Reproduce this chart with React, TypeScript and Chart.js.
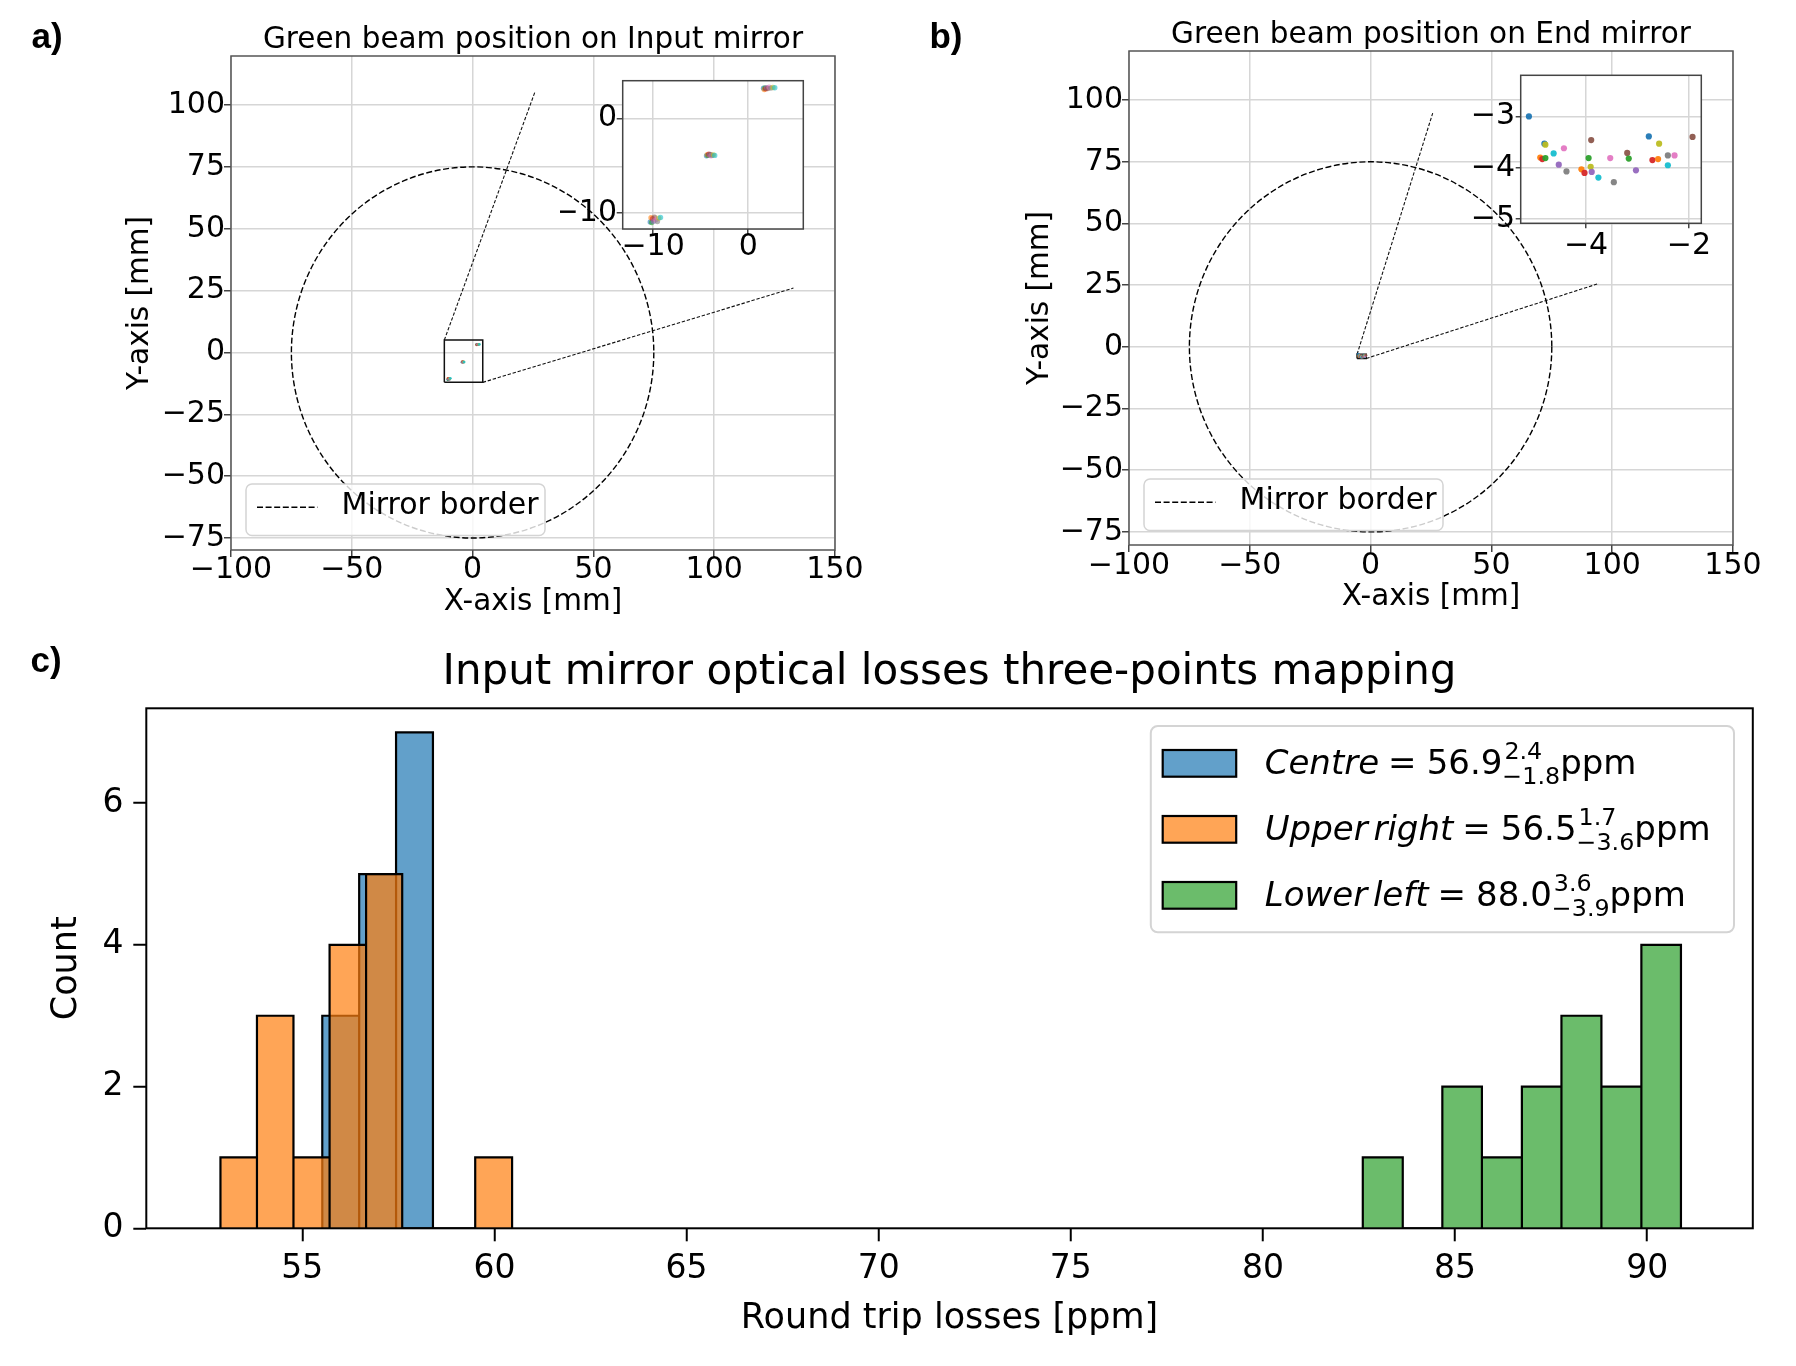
import React, { useEffect, useRef } from 'react';
import { Chart, registerables } from 'chart.js';

Chart.register(...registerables);

const PAGE_W = 1796;
const PAGE_H = 1366;
const FONT = '"DejaVu Sans", sans-serif';
const LETTER_FONT = '"Liberation Sans", Arial, sans-serif';
const TAB10 = ['#1f77b4', '#ff7f0e', '#2ca02c', '#d62728', '#9467bd', '#8c564b', '#e377c2', '#7f7f7f', '#bcbd22', '#17becf'];
const GRID = '#d6d6d6';
const BAR_ALPHA = 0.7;

// ---------------- Panel a : Input mirror ----------------
const A_X_RANGE = [-100, 150];
const A_Y_RANGE = [-79.85, 119.8];
const A_X_TICKS = [-100, -50, 0, 50, 100, 150];
const A_Y_TICKS = [-75, -50, -25, 0, 25, 50, 75, 100];
const MIRROR_CENTER = [0, 0];
const MIRROR_RADIUS = 75;
// beam positions, three measurement points (mm)
const A_UR_X = [1.62, 1.7, 1.78, 1.85, 1.95, 2.05, 2.2, 2.38, 2.6, 2.8];
const A_UR_Y = [3.18, 3.05, 3.22, 3.12, 3.25, 3.15, 3.28, 3.2, 3.26, 3.24];
const A_C_X = [-4.38, -4.3, -4.22, -4.15, -4.08, -4.0, -3.9, -3.8, -3.65, -3.52];
const A_C_Y = [-3.95, -3.85, -3.92, -3.78, -3.88, -3.82, -3.95, -3.9, -3.86, -3.92];
const A_LL_X = [-10.3, -10.22, -10.15, -10.05, -9.95, -9.85, -9.7, -9.55, -9.4, -9.22];
const A_LL_Y = [-10.95, -10.5, -11.02, -10.62, -10.88, -10.45, -10.72, -10.92, -10.55, -10.48];
const A_COLOR_IDX = [0, 1, 2, 3, 4, 5, 6, 7, 8, 9];
const A_BOX_X = [-11.7, 4.2];
const A_BOX_Y = [-12.1, 5.0];
const A_LINK_1 = [[-11.7, 5.0], [25.7, 105.0]];
const A_LINK_2 = [[4.2, -12.1], [132.8, 26.0]];
const A_INSET_X_RANGE = [-13.2, 5.8];
const A_INSET_Y_RANGE = [-11.7, 3.98];
const A_INSET_X_TICKS = [-10, 0];
const A_INSET_Y_TICKS = [-10, 0];

// ---------------- Panel b : End mirror ----------------
const B_X_RANGE = [-100, 150];
const B_Y_RANGE = [-80.3, 119.9];
const B_X_TICKS = [-100, -50, 0, 50, 100, 150];
const B_Y_TICKS = [-75, -50, -25, 0, 25, 50, 75, 100];
const E_X = [-5.11, -4.81, -4.79, -4.89, -4.85, -4.79, -4.63, -4.43, -4.53, -4.38, -4.09, -4.03, -3.9, -3.95, -3.91, -3.89, -3.76, -3.53, -3.46, -3.2, -3.17, -3.03, -2.78, -2.71, -2.6, -2.58, -2.41, -2.41, -2.28, -1.93];
const E_Y = [-3.0, -3.53, -3.55, -3.8, -3.83, -3.81, -3.72, -3.62, -3.94, -4.07, -4.03, -4.1, -3.46, -3.81, -3.98, -4.08, -4.19, -3.81, -4.28, -3.71, -3.82, -4.05, -3.39, -3.85, -3.83, -3.53, -3.76, -3.95, -3.76, -3.4];
const E_COLOR_IDX = [0, 0, 8, 1, 3, 2, 9, 6, 4, 7, 1, 3, 5, 2, 8, 4, 9, 6, 7, 5, 2, 4, 0, 3, 1, 8, 7, 9, 6, 5];
const B_BOX_X = [-5.6, -1.8];
const B_BOX_Y = [-4.7, -3.0];
const B_LINK_1 = [[-5.6, -3.0], [25.7, 94.7]];
const B_LINK_2 = [[-1.8, -4.7], [94.5, 25.7]];
const B_INSET_X_RANGE = [-5.27, -1.76];
const B_INSET_Y_RANGE = [-5.08, -2.2];
const B_INSET_X_TICKS = [-4, -2];
const B_INSET_Y_TICKS = [-5, -4, -3];

// ---------------- Panel c : histogram ----------------
const C_X_RANGE = [50.94, 92.75];
const C_Y_RANGE = [0, 7.34];
const C_X_TICKS = [55, 60, 65, 70, 75, 80, 85, 90];
const C_Y_TICKS = [0, 2, 4, 6];
const CENTRE_EDGES = [55.52, 56.48, 57.44, 58.4];
const CENTRE_COUNTS = [3, 5, 7];
const UPPER_EDGES = [52.87, 53.82, 54.77, 55.71, 56.66, 57.6, 58.55, 59.5, 60.46];
const UPPER_COUNTS = [1, 3, 1, 4, 5, 0, 0, 1];
const LOWER_EDGES = [82.6, 83.64, 84.67, 85.7, 86.74, 87.77, 88.81, 89.85, 90.88];
const LOWER_COUNTS = [1, 0, 2, 1, 2, 3, 2, 4];
const LEGEND_NAMES = [['Centre'], ['Upper', 'right'], ['Lower', 'left']];
const LEGEND_VALUES = ['56.9', '56.5', '88.0'];
const LEGEND_UPPER = ['2.4', '1.7', '3.6'];
const LEGEND_LOWER = ['\u22121.8', '\u22123.6', '\u22123.9'];

// ---------------- helpers ----------------
const fmt = (v: number) => {
  const s = String(Math.round(Math.abs(v) * 100) / 100);
  return v < 0 ? '\u2212' + s : s;
};
const rgba = (hex: string, a: number) => {
  const n = parseInt(hex.slice(1), 16);
  return `rgba(${(n >> 16) & 255},${(n >> 8) & 255},${n & 255},${a})`;
};
const xy = (xs: number[], ys: number[]) => xs.map((x, i) => ({ x, y: ys[i] }));
const steps = (edges: number[], counts: number[]) => {
  const pts: { x: number; y: number }[] = [];
  counts.forEach((c, i) => {
    pts.push({ x: edges[i], y: 0 }, { x: edges[i], y: c }, { x: edges[i + 1], y: c }, { x: edges[i + 1], y: 0 });
  });
  return pts;
};
const rrect = (ctx: CanvasRenderingContext2D, x: number, y: number, w: number, h: number, r: number) => {
  ctx.beginPath();
  ctx.moveTo(x + r, y);
  ctx.lineTo(x + w - r, y);
  ctx.arcTo(x + w, y, x + w, y + r, r);
  ctx.lineTo(x + w, y + h - r);
  ctx.arcTo(x + w, y + h, x + w - r, y + h, r);
  ctx.lineTo(x + r, y + h);
  ctx.arcTo(x, y + h, x, y + h - r, r);
  ctx.lineTo(x, y + r);
  ctx.arcTo(x, y, x + r, y, r);
  ctx.closePath();
};

type Area = { l: number; t: number; r: number; b: number };

function axis(o: any) {
  return {
    type: 'linear',
    display: true,
    min: o.min,
    max: o.max,
    offset: false,
    afterBuildTicks: (s: any) => {
      s.ticks = o.ticks.map((v: number) => ({ value: v }));
    },
    afterFit: (s: any) => {
      if (o.horizontal) s.height = o.size;
      else s.width = o.size;
    },
    grid: {
      display: true,
      drawOnChartArea: o.grid,
      drawTicks: true,
      color: GRID,
      lineWidth: 1.5,
      tickLength: o.tickLen,
      tickWidth: o.tickWidth,
      tickColor: o.tickColor,
      offset: false,
    },
    border: { display: false },
    ticks: {
      autoSkip: false,
      maxRotation: 0,
      minRotation: 0,
      padding: o.tickPad,
      color: '#000',
      font: { family: FONT, size: o.tickSize, lineHeight: 1 },
      callback: (v: any) => fmt(Number(v)),
    },
    title: o.title
      ? { display: true, text: o.title, color: '#000', font: { family: FONT, size: o.titleSize, lineHeight: 1 }, padding: o.titlePad }
      : { display: false },
  };
}

function scalesFor(s: any) {
  const a: Area = s.area;
  const padLeft = a.l - s.yAxisW;
  const hasTitles = !!s.xTitle;
  return {
    layout: {
      autoPadding: false,
      padding: { left: padLeft, top: a.t, right: PAGE_W - a.r, bottom: PAGE_H - a.b - s.xAxisH },
    },
    scales: {
      x: axis({
        min: s.xRange[0], max: s.xRange[1], ticks: s.xTicks, horizontal: true, size: s.xAxisH,
        grid: s.grid, tickLen: s.tickLen, tickWidth: s.tickWidth, tickColor: s.tickColor,
        tickPad: s.xTickY - a.b - s.tickLen - s.tickSize / 2, tickSize: s.tickSize,
        title: hasTitles ? s.xTitle : null, titleSize: s.labelSize,
        titlePad: hasTitles ? { top: 0, bottom: a.b + s.xAxisH - s.xTitleY - s.labelSize / 2 } : 0,
      }),
      y: axis({
        min: s.yRange[0], max: s.yRange[1], ticks: s.yTicks, horizontal: false, size: s.yAxisW,
        grid: s.grid, tickLen: s.tickLen, tickWidth: s.tickWidth, tickColor: s.tickColor,
        tickPad: a.l - s.tickLen - s.yTickRight, tickSize: s.tickSize,
        title: hasTitles ? s.yTitle : null, titleSize: s.labelSize,
        titlePad: hasTitles ? { top: s.yTitleX - padLeft - s.labelSize / 2, bottom: 0 } : 0,
      }),
    },
  };
}

function deco(d: any) {
  return {
    id: 'deco',
    beforeDraw(chart: any) {
      if (!d.bg) return;
      const { ctx, chartArea: ca } = chart;
      ctx.save();
      ctx.fillStyle = '#ffffff';
      ctx.fillRect(ca.left, ca.top, ca.right - ca.left, ca.bottom - ca.top);
      ctx.restore();
    },
    beforeDatasetsDraw(chart: any) {
      if (!d.circle) return;
      const { ctx, chartArea: ca, scales } = chart;
      const cx = scales.x.getPixelForValue(MIRROR_CENTER[0]);
      const cy = scales.y.getPixelForValue(MIRROR_CENTER[1]);
      const rx = scales.x.getPixelForValue(MIRROR_CENTER[0] + MIRROR_RADIUS) - cx;
      const ry = cy - scales.y.getPixelForValue(MIRROR_CENTER[1] + MIRROR_RADIUS);
      ctx.save();
      ctx.beginPath();
      ctx.rect(ca.left, ca.top, ca.right - ca.left, ca.bottom - ca.top);
      ctx.clip();
      ctx.strokeStyle = '#000';
      ctx.lineWidth = 1.4;
      ctx.setLineDash([6, 2.6]);
      ctx.beginPath();
      ctx.ellipse(cx, cy, rx, ry, 0, 0, Math.PI * 2);
      ctx.stroke();
      ctx.restore();
    },
    afterDatasetsDraw(chart: any) {
      const { ctx, chartArea: ca } = chart;
      if (d.mirrorLegend) {
        const x = ca.left + 15;
        const h = 51.6;
        const y = ca.bottom - 14.4 - h;
        ctx.save();
        rrect(ctx, x, y, 299, h, 6);
        ctx.fillStyle = 'rgba(255,255,255,0.8)';
        ctx.fill();
        ctx.strokeStyle = '#d4d4d4';
        ctx.lineWidth = 1.5;
        ctx.stroke();
        ctx.strokeStyle = '#000';
        ctx.lineWidth = 1.4;
        ctx.setLineDash([6, 2.6]);
        ctx.beginPath();
        ctx.moveTo(x + 11, y + 23.3);
        ctx.lineTo(x + 71.6, y + 23.3);
        ctx.stroke();
        ctx.setLineDash([]);
        ctx.fillStyle = '#000';
        ctx.font = `30px ${FONT}`;
        ctx.textAlign = 'left';
        ctx.textBaseline = 'middle';
        ctx.fillText('Mirror border', x + 95.5, y + 22.5);
        ctx.restore();
      }
      if (d.histLegend) {
        const w = 583.2;
        const h = 206.3;
        const x = ca.right - 18.8 - w;
        const y = ca.top + 17.7;
        const fs = 34;
        ctx.save();
        rrect(ctx, x, y, w, h, 7);
        ctx.fillStyle = 'rgba(255,255,255,0.8)';
        ctx.fill();
        ctx.strokeStyle = '#d4d4d4';
        ctx.lineWidth = 2;
        ctx.stroke();
        const colors = [TAB10[0], TAB10[1], TAB10[2]];
        for (let i = 0; i < 3; i++) {
          const cy = y + 37.3 + i * 66;
          ctx.fillStyle = '#fff';
          ctx.fillRect(x + 11.9, cy - 13.3, 73.5, 26.7);
          ctx.fillStyle = rgba(colors[i], BAR_ALPHA);
          ctx.fillRect(x + 11.9, cy - 13.3, 73.5, 26.7);
          ctx.strokeStyle = '#000';
          ctx.lineWidth = 2.2;
          ctx.strokeRect(x + 11.9, cy - 13.3, 73.5, 26.7);
          const base = y + 48 + i * 66;
          let tx = x + 113.9;
          ctx.fillStyle = '#000';
          ctx.textAlign = 'left';
          ctx.textBaseline = 'alphabetic';
          ctx.font = `italic ${fs}px ${FONT}`;
          LEGEND_NAMES[i].forEach((wd, k) => {
            if (k > 0) tx += 0.17 * fs;
            ctx.fillText(wd, tx, base);
            tx += ctx.measureText(wd).width;
          });
          tx += 0.26 * fs;
          ctx.font = `${fs}px ${FONT}`;
          ctx.fillText('=', tx, base);
          tx += ctx.measureText('=').width + 0.3 * fs;
          ctx.fillText(LEGEND_VALUES[i], tx, base);
          tx += ctx.measureText(LEGEND_VALUES[i]).width;
          const ss = fs * 0.7;
          ctx.font = `${ss}px ${FONT}`;
          ctx.fillText(LEGEND_UPPER[i], tx + 0.06 * fs, base - 0.43 * fs);
          ctx.fillText(LEGEND_LOWER[i], tx, base + 0.3 * fs);
          tx += Math.max(ctx.measureText(LEGEND_UPPER[i]).width + 0.06 * fs, ctx.measureText(LEGEND_LOWER[i]).width);
          ctx.font = `${fs}px ${FONT}`;
          ctx.fillText('ppm', tx, base);
        }
        ctx.restore();
      }
    },
    afterDraw(chart: any) {
      const { ctx, chartArea: ca } = chart;
      ctx.save();
      if (d.frame) {
        ctx.strokeStyle = d.frame.color;
        ctx.lineWidth = d.frame.width;
        ctx.strokeRect(ca.left, ca.top, ca.right - ca.left, ca.bottom - ca.top);
      }
      ctx.fillStyle = '#000';
      if (d.title) {
        ctx.font = `${d.title.size}px ${FONT}`;
        ctx.textAlign = 'center';
        ctx.textBaseline = 'middle';
        ctx.fillText(d.title.text, (ca.left + ca.right) / 2, d.title.y);
      }
      if (d.letter) {
        ctx.font = `bold 35px ${LETTER_FONT}`;
        ctx.textAlign = 'center';
        ctx.textBaseline = 'middle';
        ctx.fillText(d.letter.text, d.letter.x, d.letter.y);
      }
      ctx.restore();
    },
  };
}

function pointSet(xs: number[], ys: number[], cidx: number[], r: number, alpha: number) {
  return {
    type: 'scatter',
    data: xy(xs, ys),
    pointRadius: r,
    pointHoverRadius: r,
    pointBorderWidth: 0,
    pointBackgroundColor: cidx.map((c) => rgba(TAB10[c], alpha)),
    showLine: false,
    order: 0,
  };
}

function lineSet(pts: number[][], dash: number[], width: number, order: number) {
  return {
    type: 'scatter',
    data: pts.map((p) => ({ x: p[0], y: p[1] })),
    showLine: true,
    borderColor: '#111',
    borderWidth: width,
    borderDash: dash,
    pointRadius: 0,
    pointHoverRadius: 0,
    fill: false,
    tension: 0,
    order,
  };
}

function boxPts(bx: number[], by: number[]) {
  return [[bx[0], by[0]], [bx[1], by[0]], [bx[1], by[1]], [bx[0], by[1]], [bx[0], by[0]]];
}

function mainPanel(s: any, datasets: any[], d: any) {
  const sc = scalesFor(s);
  return {
    type: 'scatter',
    data: { datasets },
    options: {
      animation: false,
      responsive: false,
      devicePixelRatio: 1,
      events: [],
      layout: sc.layout,
      scales: sc.scales,
      plugins: { legend: { display: false }, tooltip: { enabled: false } },
    },
    plugins: [deco(d)],
  };
}

const ALL_A_X = [...A_UR_X, ...A_C_X, ...A_LL_X];
const ALL_A_Y = [...A_UR_Y, ...A_C_Y, ...A_LL_Y];
const ALL_A_C = [...A_COLOR_IDX, ...A_COLOR_IDX, ...A_COLOR_IDX];

const AB_COMMON = { grid: true, tickLen: 7, tickWidth: 1.5, tickColor: '#444', tickSize: 30, labelSize: 29.5, yAxisW: 111, xAxisH: 70 };

function configA() {
  const s = {
    ...AB_COMMON,
    area: { l: 231, t: 56, r: 835, b: 550 },
    xRange: A_X_RANGE, yRange: A_Y_RANGE, xTicks: A_X_TICKS, yTicks: A_Y_TICKS,
    xTickY: 570.5, yTickRight: 225, xTitle: 'X-axis [mm]', yTitle: 'Y-axis [mm]', xTitleY: 602, yTitleX: 140,
  };
  return mainPanel(
    s,
    [
      pointSet(ALL_A_X, ALL_A_Y, ALL_A_C, 1.4, 0.85),
      lineSet(boxPts(A_BOX_X, A_BOX_Y), [], 1.5, 1),
      lineSet(A_LINK_1, [3.4, 1.8], 1.1, 2),
      lineSet(A_LINK_2, [3.4, 1.8], 1.1, 2),
    ],
    {
      circle: true, mirrorLegend: true, frame: { color: '#555', width: 1.5 },
      title: { text: 'Green beam position on Input mirror', y: 40, size: 29.5 },
      letter: { text: 'a)', x: 47, y: 38 },
    }
  );
}

function configAInset() {
  const s = {
    grid: true, tickLen: 6, tickWidth: 1.5, tickColor: '#444', tickSize: 30, labelSize: 29.5, yAxisW: 62.7, xAxisH: 40,
    area: { l: 622.7, t: 80.7, r: 803.3, b: 229 },
    xRange: A_INSET_X_RANGE, yRange: A_INSET_Y_RANGE, xTicks: A_INSET_X_TICKS, yTicks: A_INSET_Y_TICKS,
    xTickY: 247.5, yTickRight: 617,
  };
  return mainPanel(s, [pointSet(ALL_A_X, ALL_A_Y, ALL_A_C, 2.7, 0.6)], { bg: true, frame: { color: '#444', width: 1.5 } });
}

function configB() {
  const s = {
    ...AB_COMMON,
    area: { l: 1129, t: 51, r: 1733, b: 545 },
    xRange: B_X_RANGE, yRange: B_Y_RANGE, xTicks: B_X_TICKS, yTicks: B_Y_TICKS,
    xTickY: 566, yTickRight: 1123, xTitle: 'X-axis [mm]', yTitle: 'Y-axis [mm]', xTitleY: 597.6, yTitleX: 1040,
  };
  return mainPanel(
    s,
    [
      pointSet(E_X, E_Y, E_COLOR_IDX, 1.4, 0.85),
      lineSet(boxPts(B_BOX_X, B_BOX_Y), [], 1.5, 1),
      lineSet(B_LINK_1, [3.4, 1.8], 1.1, 2),
      lineSet(B_LINK_2, [3.4, 1.8], 1.1, 2),
    ],
    {
      circle: true, mirrorLegend: true, frame: { color: '#555', width: 1.5 },
      title: { text: 'Green beam position on End mirror', y: 35, size: 29.5 },
      letter: { text: 'b)', x: 946, y: 38 },
    }
  );
}

function configBInset() {
  const s = {
    grid: true, tickLen: 5, tickWidth: 1.5, tickColor: '#444', tickSize: 30, labelSize: 29.5, yAxisW: 60.7, xAxisH: 40,
    area: { l: 1520.7, t: 75.3, r: 1701.3, b: 223.3 },
    xRange: B_INSET_X_RANGE, yRange: B_INSET_Y_RANGE, xTicks: B_INSET_X_TICKS, yTicks: B_INSET_Y_TICKS,
    xTickY: 245.8, yTickRight: 1515,
  };
  return mainPanel(s, [pointSet(E_X, E_Y, E_COLOR_IDX, 3.1, 0.95)], { bg: true, frame: { color: '#444', width: 1.5 } });
}

function histSet(edges: number[], counts: number[], color: string, order: number) {
  return {
    type: 'line',
    data: steps(edges, counts),
    borderColor: '#000',
    borderWidth: 2.2,
    borderJoinStyle: 'miter',
    backgroundColor: rgba(color, BAR_ALPHA),
    fill: 'origin',
    pointRadius: 0,
    pointHoverRadius: 0,
    tension: 0,
    order,
  };
}

function configC() {
  const s = {
    grid: false, tickLen: 13, tickWidth: 2, tickColor: '#000', tickSize: 33, labelSize: 35, yAxisW: 106.3, xAxisH: 110,
    area: { l: 146.3, t: 708.3, r: 1752.8, b: 1228.3 },
    xRange: C_X_RANGE, yRange: C_Y_RANGE, xTicks: C_X_TICKS, yTicks: C_Y_TICKS,
    xTickY: 1269, yTickRight: 123.5, xTitle: 'Round trip losses [ppm]', yTitle: 'Count', xTitleY: 1319, yTitleX: 66.5,
  };
  const sc = scalesFor(s);
  return {
    type: 'line',
    data: {
      datasets: [
        histSet(CENTRE_EDGES, CENTRE_COUNTS, TAB10[0], 3),
        histSet(UPPER_EDGES, UPPER_COUNTS, TAB10[1], 2),
        histSet(LOWER_EDGES, LOWER_COUNTS, TAB10[2], 1),
      ],
    },
    options: {
      animation: false,
      responsive: false,
      devicePixelRatio: 1,
      events: [],
      layout: sc.layout,
      scales: sc.scales,
      plugins: { legend: { display: false }, tooltip: { enabled: false } },
    },
    plugins: [
      deco({
        histLegend: true,
        frame: { color: '#000', width: 2 },
        title: { text: 'Input mirror optical losses three-points mapping', y: 673, size: 42 },
        letter: { text: 'c)', x: 46, y: 662 },
      }),
    ],
  };
}

export default function App() {
  const r0 = useRef<HTMLCanvasElement>(null);
  const r1 = useRef<HTMLCanvasElement>(null);
  const r2 = useRef<HTMLCanvasElement>(null);
  const r3 = useRef<HTMLCanvasElement>(null);
  const r4 = useRef<HTMLCanvasElement>(null);
  const refs = [r0, r1, r2, r3, r4];

  useEffect(() => {
    const cfgs = [configA(), configAInset(), configB(), configBInset(), configC()];
    const charts = cfgs.map((c, i) => new Chart(refs[i].current as HTMLCanvasElement, c as any));
    return () => charts.forEach((ch) => ch.destroy());
  }, []);

  return (
    <div style={{ position: 'absolute', left: 0, top: 0, width: PAGE_W, height: PAGE_H, background: '#fff', overflow: 'hidden' }}>
      {refs.map((r, i) => (
        <canvas
          key={i}
          ref={r}
          width={PAGE_W}
          height={PAGE_H}
          style={{ position: 'absolute', left: 0, top: 0, width: PAGE_W, height: PAGE_H }}
        />
      ))}
    </div>
  );
}
